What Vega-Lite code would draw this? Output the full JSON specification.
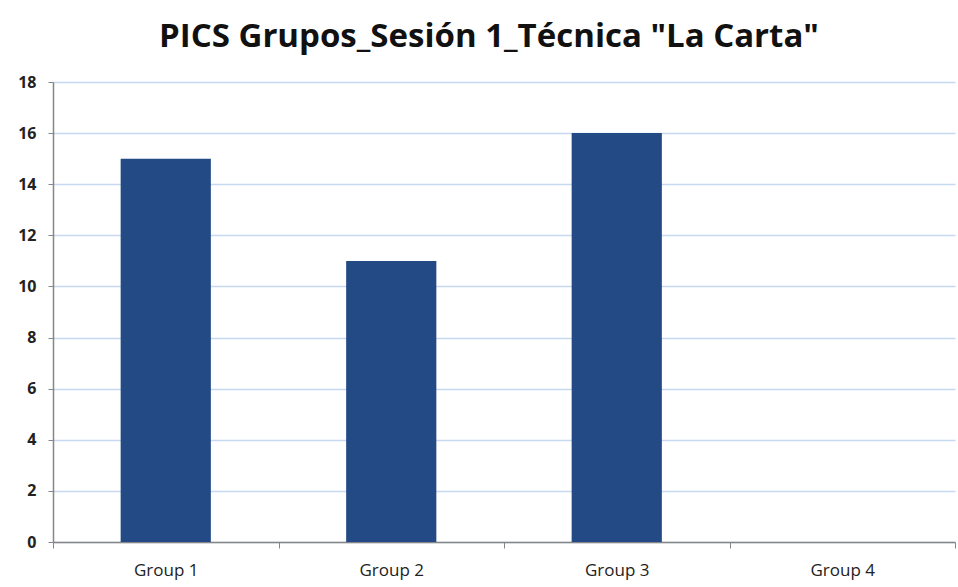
{
  "$schema": "https://vega.github.io/schema/vega-lite/v6.json",
  "width": 902,
  "height": 460,
  "autosize": {"type": "none"},
  "padding": {"left": 53, "top": 82, "right": 3, "bottom": 45},
  "background": "white",
  "title": {
    "text": "PICS Grupos_Sesión 1_Técnica \"La Carta\"",
    "font": "Open Sans",
    "fontSize": 33,
    "fontWeight": "bold",
    "color": "#111111",
    "anchor": "middle",
    "dx": -15,
    "offset": 20
  },
  "data": {
    "values": [
      {"group": "Group 1", "value": 15},
      {"group": "Group 2", "value": 11},
      {"group": "Group 3", "value": 16},
      {"group": "Group 4", "value": 0}
    ]
  },
  "mark": {"type": "bar", "color": "#234a85", "width": {"band": 0.4}},
  "encoding": {
    "x": {
      "field": "group",
      "type": "nominal",
      "title": null,
      "scale": {"paddingInner": 0, "paddingOuter": 0},
      "axis": {
        "labelAngle": 0,
        "labelFont": "Open Sans",
        "labelFontSize": 17,
        "labelColor": "#222222",
        "labelPadding": 14,
        "tickBand": "extent",
        "tickColor": "#868686",
        "tickSize": 6,
        "domainColor": "#868686",
        "domainWidth": 1.5,
        "grid": false
      }
    },
    "y": {
      "field": "value",
      "type": "quantitative",
      "title": null,
      "scale": {"domain": [0, 18]},
      "axis": {
        "values": [0, 2, 4, 6, 8, 10, 12, 14, 16, 18],
        "labelFont": "Open Sans",
        "labelFontSize": 16,
        "labelFontWeight": "bold",
        "labelColor": "#222222",
        "labelPadding": 12,
        "tickColor": "#868686",
        "tickSize": 5,
        "domainColor": "#868686",
        "domainWidth": 1.5,
        "gridColor": "#c6d9f1",
        "gridWidth": 1.5
      }
    }
  },
  "config": {"view": {"stroke": null}}
}
